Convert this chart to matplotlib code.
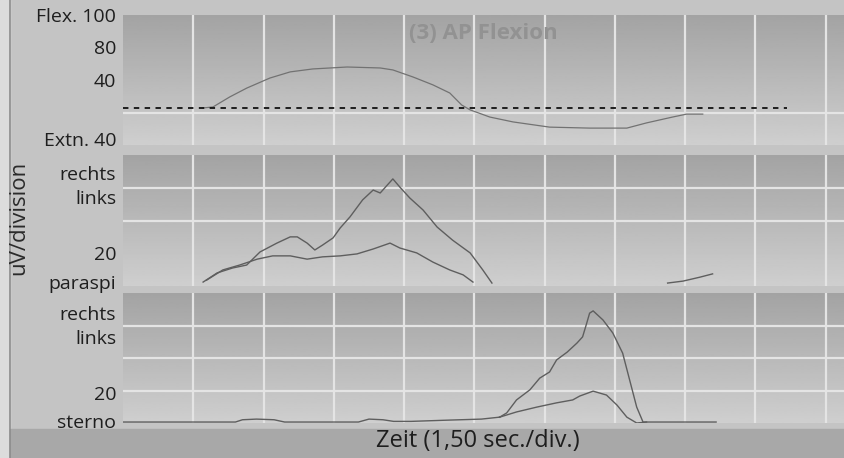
import numpy as np
import matplotlib
matplotlib.use("Agg")
import matplotlib.pyplot as plt
from matplotlib.patches import Rectangle

plt.rcParams['font.family'] = ['Open Sans', 'DejaVu Sans']

# x in divisions (1 div = 1,50 sec), y in panel divisions (0..4)

# (3) AP Flexion - angle trace
flex_x = [1.14, 1.28, 1.52, 1.76, 2.09, 2.38, 2.70, 3.19, 3.66, 3.84, 4.13, 4.41,
          4.65, 4.82, 4.94, 5.22, 5.55, 6.07, 6.64, 7.17, 7.45, 7.82, 8.02, 8.25]
flex_y = [1.14, 1.17, 1.48, 1.75, 2.06, 2.25, 2.34, 2.40, 2.37, 2.31, 2.09, 1.85,
          1.60, 1.23, 1.08, 0.86, 0.71, 0.55, 0.52, 0.52, 0.68, 0.86, 0.95, 0.95]
flex_zero = 1.14
flex_zero_end = 9.45

# paraspi rechts / links
para_r_x = [1.14, 1.34, 1.56, 1.76, 1.95, 2.19, 2.38, 2.48, 2.62, 2.73, 2.84, 2.99, 3.09,
            3.23, 3.41, 3.56, 3.66, 3.76, 3.84, 3.94, 4.08, 4.27, 4.47, 4.69, 4.94, 5.12, 5.25]
para_r_y = [0.12, 0.40, 0.55, 0.64, 1.04, 1.31, 1.50, 1.50, 1.31, 1.10, 1.25, 1.47, 1.77,
            2.11, 2.63, 2.93, 2.84, 3.08, 3.27, 3.02, 2.69, 2.32, 1.80, 1.40, 1.01, 0.49, 0.09]
para_l_x = [1.19, 1.42, 1.66, 1.91, 2.13, 2.38, 2.62, 2.84, 3.09, 3.33, 3.56, 3.80, 3.94,
            4.18, 4.41, 4.65, 4.84, 4.98]
para_l_y = [0.18, 0.49, 0.64, 0.82, 0.92, 0.92, 0.82, 0.89, 0.92, 0.98, 1.13, 1.31, 1.16,
            1.01, 0.73, 0.49, 0.34, 0.12]
para_frag_x = [7.75, 7.97, 8.21, 8.39]
para_frag_y = [0.09, 0.15, 0.27, 0.37]

# sterno rechts / links (common baseline part first)
sterno_base_x = [0.0, 1.6, 1.7, 1.9, 2.15, 2.3, 3.35, 3.5, 3.7, 3.85, 4.1, 4.65, 5.1, 5.36]
sterno_base_y = [0.03, 0.03, 0.10, 0.12, 0.10, 0.03, 0.03, 0.12, 0.10, 0.05, 0.05, 0.09, 0.12, 0.18]
sterno_r_x = [5.36, 5.46, 5.60, 5.79, 5.93, 6.07, 6.17, 6.32, 6.46, 6.54, 6.60, 6.64, 6.69,
              6.83, 6.97, 7.11, 7.21, 7.31, 7.40, 8.44]
sterno_r_y = [0.18, 0.31, 0.71, 1.02, 1.38, 1.57, 1.94, 2.18, 2.46, 2.65, 3.08, 3.38, 3.45,
              3.17, 2.77, 2.15, 1.32, 0.49, 0.03, 0.03]
sterno_l_x = [5.36, 5.60, 5.89, 6.17, 6.40, 6.50, 6.69, 6.88, 7.03, 7.17, 7.31, 7.45]
sterno_l_y = [0.18, 0.34, 0.49, 0.62, 0.71, 0.83, 0.98, 0.86, 0.55, 0.18, 0.0, 0.03]

flex_ticks = [4.0, 3.0, 2.0, 0.2]
flex_labels = ['Flex. 100', '80', '40', 'Extn. 40']
para_ticks = [3.45, 2.72, 1.0, 0.12]
para_labels = ['rechts', 'links', '20', 'paraspi']
sterno_ticks = [3.38, 2.65, 0.92, 0.05]
sterno_labels = ['rechts', 'links', '20', 'sterno']

fig = plt.figure(figsize=(8.44, 4.58), dpi=100)
fig.patch.set_facecolor('#c4c4c4')
# light strip on the left, darker band at the bottom
fig.patches.append(Rectangle((0, 0), 10 / 844, 1, transform=fig.transFigure,
                             color='#dcdcdc', zorder=-2))
fig.patches.append(Rectangle((10 / 844, 0), 1, 29 / 458, transform=fig.transFigure,
                             color='#a8a8a8', zorder=-2))
fig.lines.append(plt.Line2D([10 / 844, 10 / 844], [0, 1], transform=fig.transFigure,
                            color='#8c8c8c', lw=1.2, zorder=-1))

left = 123 / 844
width = 1 - left
panels = [
    (1 - 145 / 458, 130 / 458),
    (1 - 286 / 458, 131 / 458),
    (1 - 423 / 458, 130 / 458),
]

grad = np.linspace(0.64, 0.81, 100).reshape(-1, 1)
axes = []
for bottom, height in panels:
    ax = fig.add_axes([left, bottom, width, height])
    ax.imshow(grad, extent=[0, 10.26, 0, 4], aspect='auto', cmap='gray',
              vmin=0, vmax=1, origin='upper', zorder=0)
    ax.set_xlim(0, 10.26)
    ax.set_ylim(0, 4)
    ax.set_xticks(range(1, 11), minor=True)
    ax.set_yticks([1, 2, 3], minor=True)
    ax.grid(which='minor', color='#e4e4e4', lw=1.6)
    ax.set_axisbelow(True)
    ax.set_xticks([])
    ax.tick_params(which='both', length=0, labelsize=14, labelcolor='#1e1e1e', pad=5)
    for s in ax.spines.values():
        s.set_visible(False)
    axes.append(ax)

ax1, ax2, ax3 = axes
line_kw = dict(color='#5e5e5e', lw=1.0, zorder=3)

# top panel
ax1.plot(flex_x, flex_y, color='#727272', lw=0.9, zorder=3)
ax1.plot([0, flex_zero_end], [flex_zero, flex_zero], color='#111111', lw=1.3,
         ls=(0, (3, 3)), zorder=4)
ax1.set_yticks(flex_ticks, flex_labels)
ax1.text(0.5, 0.86, '(3) AP Flexion', transform=ax1.transAxes, ha='center', va='center',
         fontsize=16, fontweight='bold', color='#929292')

# middle panel
ax2.plot(para_r_x, para_r_y, **line_kw)
ax2.plot(para_l_x, para_l_y, **line_kw)
ax2.plot(para_frag_x, para_frag_y, **line_kw)
ax2.set_yticks(para_ticks, para_labels)

# bottom panel
ax3.plot(sterno_base_x, sterno_base_y, **line_kw)
ax3.plot(sterno_r_x, sterno_r_y, **line_kw)
ax3.plot(sterno_l_x, sterno_l_y, **line_kw)
ax3.set_yticks(sterno_ticks, sterno_labels)

fig.text(478 / 844, 1 - 441 / 458, 'Zeit (1,50 sec./div.)', ha='center', va='center',
         fontsize=17, color='#1e1e1e')
fig.text(19 / 844, 1 - 218 / 458, 'uV/division', ha='center', va='center',
         rotation=90, fontsize=16, color='#2a2a2a')

fig.savefig('out.png', dpi=100, facecolor=fig.get_facecolor())
